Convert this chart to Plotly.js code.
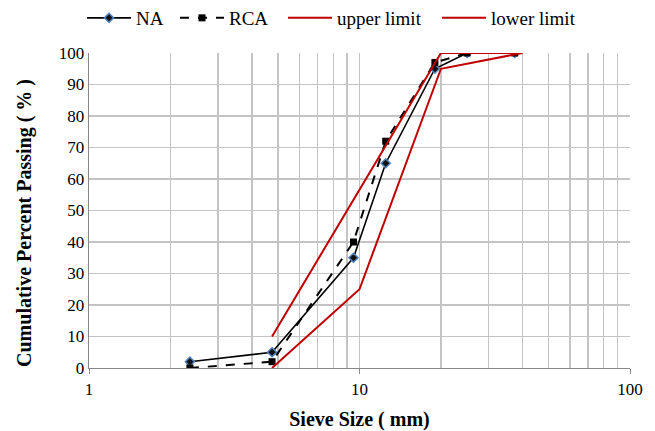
<!DOCTYPE html>
<html>
<head>
<meta charset="utf-8">
<script src="https://cdn.plot.ly/plotly-3.0.1.min.js"></script>
<style>html,body{margin:0;padding:0;background:#fff;}#chart{width:655px;height:431px;}</style>
</head>
<body>
<div id="chart"></div>
<script>
var sieveSizes = [2.36, 4.75, 9.5, 12.5, 19, 25, 37.5];
var naPassing = [2, 5, 35, 65, 95, 100, 100];
var rcaPassing = [0, 2, 40, 72, 97, 100, 100];
var upperSizes = [4.75, 20, 40];
var upperLimit = [10, 100, 100];
var lowerSizes = [4.75, 10, 20, 40];
var lowerLimit = [0, 25, 95, 100];
var majorTicks = [1, 10, 100];
var majorLabels = ['1', '10', '100'];
var minorTicks = [2,3,4,5,6,7,8,9,20,30,40,50,60,70,80,90];

var red = '#C00000';
var traces = [
  {x: sieveSizes, y: naPassing, name: 'NA', mode: 'lines+markers', legend: 'legend',
   line: {color: '#000', width: 1.6},
   marker: {symbol: 'diamond', size: 7, color: '#111', line: {color: '#4F81BD', width: 1.5}}},
  {x: sieveSizes, y: rcaPassing, name: 'RCA', mode: 'lines+markers', legend: 'legend2',
   line: {color: '#000', width: 2, dash: 'dash'},
   marker: {symbol: 'square', size: 7, color: '#000'}},
  {x: upperSizes, y: upperLimit, name: 'upper limit', mode: 'lines', legend: 'legend3',
   line: {color: red, width: 2}},
  {x: lowerSizes, y: lowerLimit, name: 'lower limit', mode: 'lines', legend: 'legend4',
   line: {color: red, width: 2}}
];

function leg(px) {
  return {orientation: 'h', xref: 'container', yref: 'container',
    x: px / 655, xanchor: 'left', y: 1 - 18 / 431, yanchor: 'middle',
    font: {size: 19, family: 'Liberation Serif'}, itemwidth: 44, bgcolor: 'rgba(0,0,0,0)', borderwidth: 0};
}

var layout = {
  width: 655, height: 431,
  margin: {l: 89, r: 25, t: 53, b: 63},
  paper_bgcolor: '#fff', plot_bgcolor: '#fff',
  font: {family: 'Liberation Serif, Times New Roman, serif', color: '#000', size: 17},
  showlegend: true,
  legend: leg(82), legend2: leg(175), legend3: leg(283), legend4: leg(437),
  xaxis: {
    type: 'log', range: [0, 2],
    tickmode: 'array', tickvals: majorTicks, ticktext: majorLabels,
    ticks: 'outside', ticklen: 5, tickcolor: '#888',
    showgrid: true, gridcolor: '#C4C4C4', gridwidth: 1.4,
    minor: {tickmode: 'array', tickvals: minorTicks, showgrid: true, gridcolor: '#C4C4C4', gridwidth: 1.4, ticks: ''},
    showline: true, linecolor: '#888', linewidth: 1.3,
    zeroline: false,
    tickfont: {size: 17},
    title: {text: '<b>Sieve Size ( mm)</b>', font: {size: 20}, standoff: 14}
  },
  yaxis: {
    range: [0, 100], dtick: 10, tick0: 0,
    ticks: '', showgrid: true, gridcolor: '#C4C4C4', gridwidth: 1.4,
    showline: true, linecolor: '#888', linewidth: 1.3,
    zeroline: false,
    tickfont: {size: 17},
    title: {text: '<b>Cumulative Percent Passing ( % )\u00a0\u00a0\u00a0\u00a0\u00a0</b>', font: {size: 20}, standoff: 21}
  }
};

Plotly.newPlot('chart', traces, layout, {displayModeBar: false, staticPlot: true});
</script>
</body>
</html>
